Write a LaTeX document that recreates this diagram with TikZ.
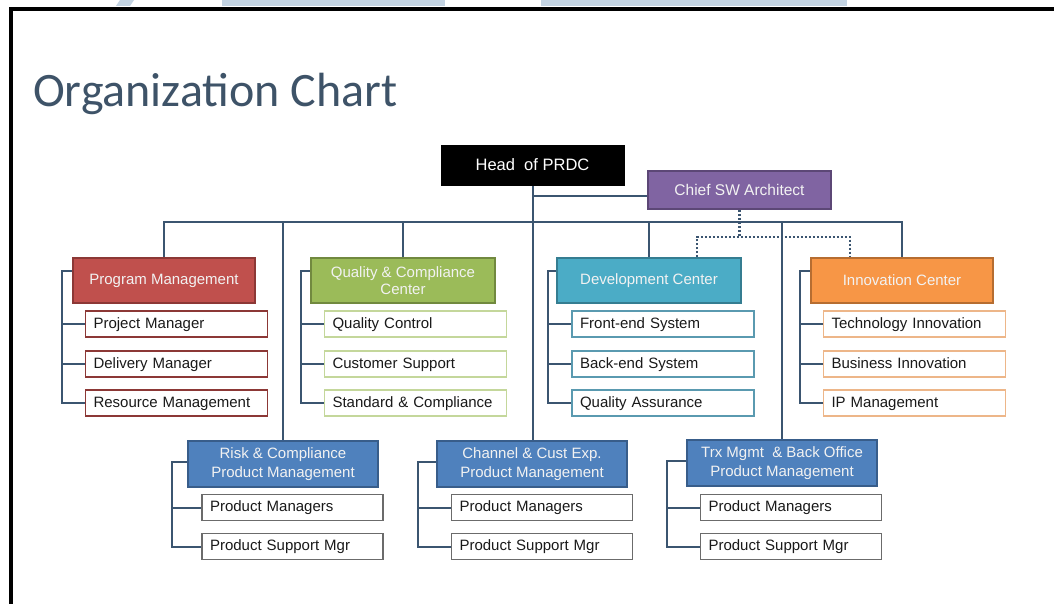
\documentclass[tikz,border=0pt]{standalone}
\usepackage{fontspec}
\setmainfont{Liberation Sans}
\newfontfamily\titlefont{Carlito}
\usetikzlibrary{calc,backgrounds}
\definecolor{linec}{HTML}{3B5570}
\definecolor{titlec}{HTML}{3E5368}
\definecolor{barc}{HTML}{C3D3E2}
\definecolor{pmred}{HTML}{C0504D}
\definecolor{pmredd}{HTML}{8C3836}
\definecolor{qcgreen}{HTML}{9BBB59}
\definecolor{qcgreend}{HTML}{71893F}
\definecolor{qcsub}{HTML}{C4D79B}
\definecolor{dcteal}{HTML}{4BACC6}
\definecolor{dctealt}{HTML}{357D91}
\definecolor{dcsub}{HTML}{5A9AB0}
\definecolor{icor}{HTML}{F79646}
\definecolor{icord}{HTML}{B66D31}
\definecolor{icsub}{HTML}{EDB689}
\definecolor{pdblue}{HTML}{4F81BD}
\definecolor{pdblued}{HTML}{385D8A}
\definecolor{pdsub}{HTML}{6B6B6B}
\definecolor{cfpur}{HTML}{8064A2}
\definecolor{cfpurd}{HTML}{5C4776}
\begin{document}
\begin{tikzpicture}[x=1pt,y=-1pt,
  hdr/.style={draw, line width=1.5pt, minimum height=45pt, inner sep=2pt, align=center,
    text=white!95!black, font=\fontsize{15}{17.5}\selectfont},
  pdhdr/.style={hdr, fill=pdblue, draw=pdblued, minimum width=190pt, minimum height=46pt,
    font=\fontsize{15}{19.5}\selectfont},
  sub/.style={draw, fill=white, line width=1.5pt, minimum height=26pt, text width=166pt,
    text height=11pt, text depth=3pt,
    inner xsep=8pt, inner ysep=0pt, align=left, font=\fontsize{15}{17}\selectfont, text=black!90},
  conn/.style={draw=linec, line width=2pt},
  dotc/.style={draw=linec, line width=2.6pt, dash pattern=on 2.4pt off 1.6pt}]
\useasboundingbox (0,0) rectangle (1054,604);
% frame and top bars
\fill[barc] (120,0) -- (134,0) -- (130,6) -- (116,6) -- cycle;
\fill[barc] (222,0) rectangle (445,6);
\fill[barc] (541,0) rectangle (847,6);
\fill[black] (9,7) rectangle (1054,11);
\fill[black] (9,7) rectangle (13,604);
% title
\node[anchor=base west, inner sep=0pt, text=titlec, font=\titlefont\fontsize{48}{50}\selectfont] (title) at (33,107) {Organization Chart};
% top
\node[draw=black, fill=black, minimum width=183pt, minimum height=40pt, inner sep=0pt, text=white,
  font=\fontsize{16.5}{18}\selectfont] (hd) at (532.5,165) {Head\ \ of PRDC};
\node[draw=cfpurd, fill=cfpur, line width=1.5pt, minimum width=183pt, minimum height=38pt, inner sep=0pt,
  text=white!95!black, font=\fontsize{15.5}{18}\selectfont] (cf) at (739.5,190) {Chief SW Architect};
% departments
\node[hdr, fill=pmred, draw=pmredd, minimum width=182pt] (pm) at (164,280.5) {Program Management};
\node[hdr, fill=qcgreen, draw=qcgreend, minimum width=184pt] (qc) at (403,280.5) {Quality \& Compliance\\Center};
\node[hdr, fill=dcteal, draw=dctealt, minimum width=184pt] (dc) at (649,280.5) {Development Center};
\node[hdr, fill=icor, draw=icord, minimum width=182pt] (ic) at (902,280.5) {Innovation Center};
% department subs
\node[sub, draw=pmredd] (pm1) at (176.5,324) {Project Manager};
\node[sub, draw=pmredd] (pm2) at (176.5,364) {Delivery Manager};
\node[sub, draw=pmredd] (pm3) at (176.5,403) {Resource Management};
\node[sub, draw=qcsub] (qc1) at (415.5,324) {Quality Control};
\node[sub, draw=qcsub] (qc2) at (415.5,364) {Customer Support};
\node[sub, draw=qcsub] (qc3) at (415.5,403) {Standard \& Compliance};
\node[sub, draw=dcsub] (dc1) at (663,324) {Front-end System};
\node[sub, draw=dcsub] (dc2) at (663,364) {Back-end System};
\node[sub, draw=dcsub] (dc3) at (663,403) {Quality Assurance};
\node[sub, draw=icsub] (ic1) at (914.5,324) {Technology Innovation};
\node[sub, draw=icsub] (ic2) at (914.5,364) {Business Innovation};
\node[sub, draw=icsub] (ic3) at (914.5,403) {IP Management};
% product management
\node[pdhdr] (rk) at (283,464) {Risk \& Compliance\\Product Management};
\node[pdhdr] (ch) at (532,464) {Channel \& Cust Exp.\\Product Management};
\node[pdhdr] (tx) at (782,463) {Trx Mgmt\ \ \& Back Office\\Product Management};
\node[sub, draw=pdsub, text width=165pt] (rk1) at (292.5,507.5) {Product Managers};
\node[sub, draw=pdsub, text width=165pt] (rk2) at (292.5,546.5) {Product Support Mgr};
\node[sub, draw=pdsub, text width=165pt] (ch1) at (542,507.5) {Product Managers};
\node[sub, draw=pdsub, text width=165pt] (ch2) at (542,546.5) {Product Support Mgr};
\node[sub, draw=pdsub, text width=165pt] (tx1) at (791,507.5) {Product Managers};
\node[sub, draw=pdsub, text width=165pt] (tx2) at (791,546.5) {Product Support Mgr};
% helper coordinates
\coordinate (bus) at (0,222);
\coordinate (hc) at (0,196);
\coordinate (dl) at (0,237);
\coordinate (dx1) at (697,0);
\coordinate (dx2) at (850,0);
\coordinate (pmb) at (62,0);
\coordinate (qcb) at (301,0);
\coordinate (dcb) at (548,0);
\coordinate (icb) at (800,0);
\coordinate (rkb) at (172,0);
\coordinate (chb) at (418,0);
\coordinate (txb) at (667,0);
\begin{pgfonlayer}{background}
% main structure
\draw[conn] (hd.south) -- (hd.south |- ch.north);
\draw[conn] (hd.south |- hc) -- (cf.west |- hc);
\draw[conn] (pm.north) -- (pm.north |- bus) -- (ic.north |- bus) -- (ic.north);
\draw[conn] (qc.north) -- (qc.north |- bus);
\draw[conn] (dc.north) -- (dc.north |- bus);
\draw[conn] (rk.north) -- (rk.north |- bus);
\draw[conn] (tx.north) -- (tx.north |- bus);
% dotted
\draw[dotc] (cf.south) -- (cf.south |- dl);
\draw[dotc] (dx1 |- dc.north) -- (dx1 |- dl) -- (dx2 |- dl) -- (dx2 |- ic.north);
% brackets
\draw[conn] ($(pm.north west)+(0,14)$) -| (pmb |- pm3.west) -- (pm3.west);
\draw[conn] (pm1.west) -- (pm1.west -| pmb);
\draw[conn] (pm2.west) -- (pm2.west -| pmb);
\draw[conn] ($(qc.north west)+(0,14)$) -| (qcb |- qc3.west) -- (qc3.west);
\draw[conn] (qc1.west) -- (qc1.west -| qcb);
\draw[conn] (qc2.west) -- (qc2.west -| qcb);
\draw[conn] ($(dc.north west)+(0,14)$) -| (dcb |- dc3.west) -- (dc3.west);
\draw[conn] (dc1.west) -- (dc1.west -| dcb);
\draw[conn] (dc2.west) -- (dc2.west -| dcb);
\draw[conn] ($(ic.north west)+(0,14)$) -| (icb |- ic3.west) -- (ic3.west);
\draw[conn] (ic1.west) -- (ic1.west -| icb);
\draw[conn] (ic2.west) -- (ic2.west -| icb);
\draw[conn] ($(rk.north west)+(0,22)$) -| (rkb |- rk2.west) -- (rk2.west);
\draw[conn] (rk1.west) -- (rk1.west -| rkb);
\draw[conn] ($(ch.north west)+(0,22)$) -| (chb |- ch2.west) -- (ch2.west);
\draw[conn] (ch1.west) -- (ch1.west -| chb);
\draw[conn] ($(tx.north west)+(0,22)$) -| (txb |- tx2.west) -- (tx2.west);
\draw[conn] (tx1.west) -- (tx1.west -| txb);
\end{pgfonlayer}
\end{tikzpicture}
\end{document}
